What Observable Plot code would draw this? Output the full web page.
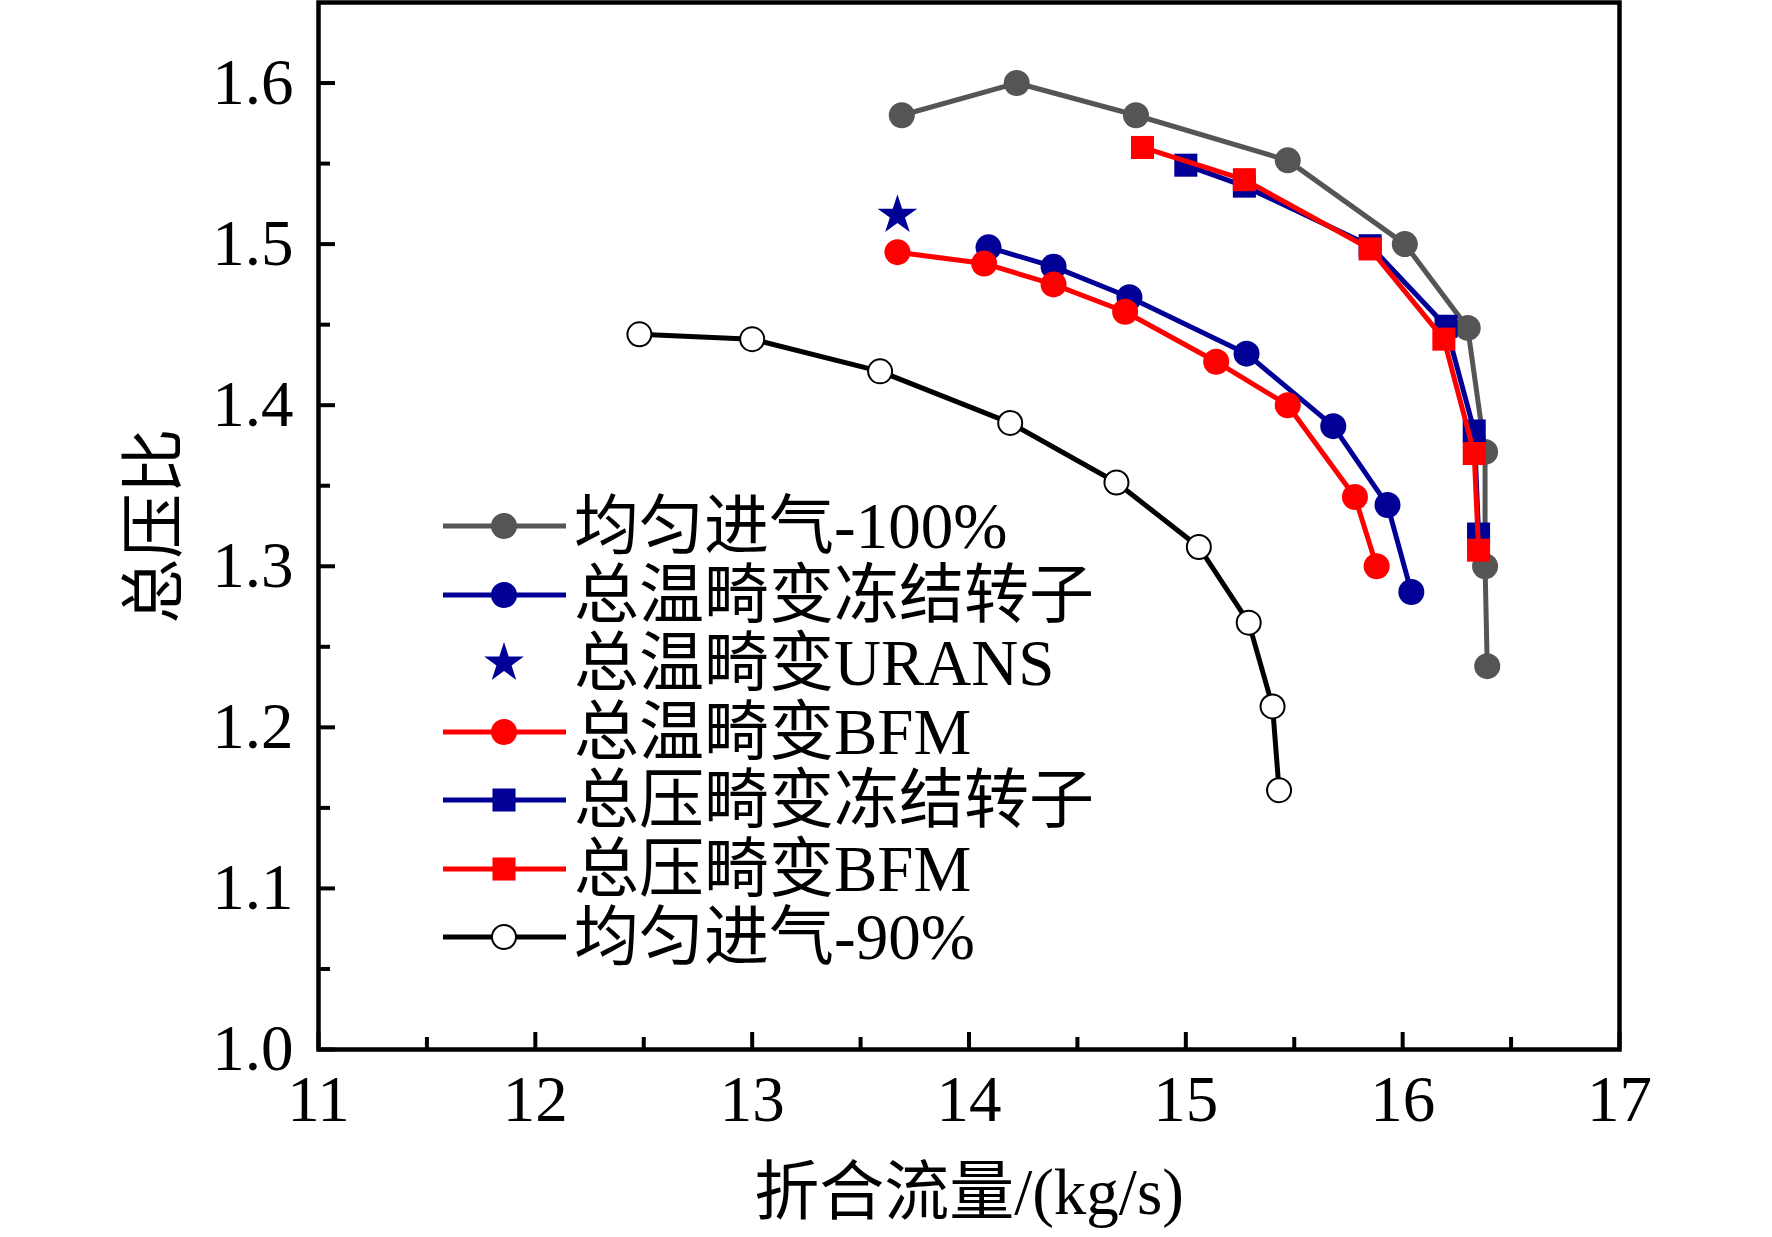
<!DOCTYPE html>
<html>
<head>
<meta charset="utf-8">
<script src="https://cdn.jsdelivr.net/npm/d3@7"></script>
<script src="https://cdn.jsdelivr.net/npm/@observablehq/plot@0.6"></script>
<style>
  html, body { margin: 0; padding: 0; background: #fff; }
  #wrap { position: relative; width: 1772px; height: 1237px; font-family: "Liberation Serif", "Times New Roman", "Noto Sans CJK SC", serif; }
  .leg-row { position: absolute; display: flex; align-items: center; height: 68px; }
  .leg-row span { font-size: 65px; line-height: 68px; white-space: nowrap; color: #000; }
</style>
</head>
<body>
<div id="wrap"></div>
<script>
// ---- data ----
const xLabel = "折合流量/(kg/s)";
const yLabel = "总压比";
const xMajorTicks = [11, 12, 13, 14, 15, 16, 17];
const xMinorTicks = [11.5, 12.5, 13.5, 14.5, 15.5, 16.5];
const yMajorTicks = [1.0, 1.1, 1.2, 1.3, 1.4, 1.5, 1.6];
const yMinorTicks = [1.05, 1.15, 1.25, 1.35, 1.45, 1.55];

const seriesNames = ["均匀进气-100%", "总温畸变冻结转子", "总温畸变URANS", "总温畸变BFM", "总压畸变冻结转子", "总压畸变BFM", "均匀进气-90%"];

const uniform100X = [13.69, 14.22, 14.77, 15.47, 16.01, 16.30, 16.38, 16.38, 16.39];
const uniform100Y = [1.580, 1.600, 1.580, 1.552, 1.500, 1.448, 1.371, 1.300, 1.238];

const tempFrozenX = [14.09, 14.39, 14.74, 15.28, 15.68, 15.93, 16.04];
const tempFrozenY = [1.498, 1.486, 1.467, 1.432, 1.387, 1.338, 1.284];

const tempUransX = [13.67];
const tempUransY = [1.518];

const tempBfmX = [13.67, 14.07, 14.39, 14.72, 15.14, 15.47, 15.78, 15.88];
const tempBfmY = [1.495, 1.488, 1.475, 1.458, 1.427, 1.400, 1.343, 1.300];

const pressFrozenX = [15.00, 15.27, 15.85, 16.20, 16.33, 16.35];
const pressFrozenY = [1.549, 1.536, 1.499, 1.449, 1.384, 1.320];

const pressBfmX = [14.80, 15.27, 15.85, 16.19, 16.33, 16.35];
const pressBfmY = [1.560, 1.540, 1.497, 1.441, 1.370, 1.310];

const uniform90X = [12.48, 13.00, 13.59, 14.19, 14.68, 15.06, 15.29, 15.40, 15.43];
const uniform90Y = [1.444, 1.441, 1.421, 1.389, 1.352, 1.312, 1.265, 1.213, 1.161];

// ---- styles ----
const GRAY = "#555555", BLUE = "#000096", RED = "#ff0000", BLACK = "#000000";
const series = [
  {name: seriesNames[0], xs: uniform100X, ys: uniform100Y, color: GRAY, symbol: "circle", line: true, fill: GRAY},
  {name: seriesNames[1], xs: tempFrozenX, ys: tempFrozenY, color: BLUE, symbol: "circle", line: true, fill: BLUE},
  {name: seriesNames[2], xs: tempUransX, ys: tempUransY, color: BLUE, symbol: "star", line: false, fill: BLUE},
  {name: seriesNames[3], xs: tempBfmX, ys: tempBfmY, color: RED, symbol: "circle", line: true, fill: RED},
  {name: seriesNames[4], xs: pressFrozenX, ys: pressFrozenY, color: BLUE, symbol: "square", line: true, fill: BLUE},
  {name: seriesNames[5], xs: pressBfmX, ys: pressBfmY, color: RED, symbol: "square", line: true, fill: RED},
  {name: seriesNames[6], xs: uniform90X, ys: uniform90Y, color: BLACK, symbol: "circle", line: true, fill: "#ffffff"}
];
const symR = {circle: 13, square: 13, star: 12.5};
const rows = s => s.xs.map((x, i) => ({x, y: s.ys[i], series: s.name}));

const marks = [];
for (const s of series) {
  const d = rows(s);
  if (s.line) marks.push(Plot.line(d, {x: "x", y: "y", stroke: s.color, strokeWidth: 5}));
  const open = s.fill === "#ffffff";
  marks.push(Plot.dot(d, {x: "x", y: "y", symbol: s.symbol, r: open ? 12 : symR[s.symbol], fill: s.fill,
    stroke: open ? BLACK : "none", strokeWidth: open ? 2 : 0}));
}

const chart = Plot.plot({
  width: 1772,
  height: 1237,
  marginLeft: 318,
  marginRight: 153,
  marginTop: 2,
  marginBottom: 188,
  style: {fontFamily: '"Liberation Serif", "Times New Roman", "Noto Sans CJK SC", serif', fontSize: "65px", color: "#000", background: "#fff"},
  x: {domain: [11, 17]},
  y: {domain: [1.0, 1.65]},
  marks: [
    ...marks,
    Plot.axisX(xMajorTicks, {tickSize: 0, tickPadding: 25, tickFormat: d => String(d), label: xLabel, labelArrow: "none", labelAnchor: "center", labelOffset: 164, fontSize: 65}),
    Plot.axisX(xMajorTicks, {tickSize: -17, strokeWidth: 4, tickFormat: () => "", label: null}),
    Plot.axisX(xMinorTicks, {tickSize: -12, strokeWidth: 4, tickFormat: () => "", label: null}),
    Plot.axisY(yMajorTicks, {tickSize: 0, tickPadding: 25, tickFormat: d3.format(".1f"), label: yLabel, labelArrow: "none", labelAnchor: "center", labelOffset: 189, fontSize: 65}),
    Plot.axisY(yMajorTicks, {tickSize: -17, strokeWidth: 4, tickFormat: () => "", label: null}),
    Plot.axisY(yMinorTicks, {tickSize: -12, strokeWidth: 4, tickFormat: () => "", label: null}),
    Plot.frame({stroke: "#000", strokeWidth: 4.5})
  ]
});
const wrap = document.getElementById("wrap");
wrap.appendChild(chart);

// ---- legend (HTML overlay) ----
const legLeft = 443, legTop = 526, legStep = 68.5;
series.forEach((s, i) => {
  const row = document.createElement("div");
  row.className = "leg-row";
  row.style.left = legLeft + "px";
  row.style.top = (legTop + i * legStep - 34) + "px";
  const svg = d3.create("svg").attr("width", 131).attr("height", 68);
  if (s.line) svg.append("line").attr("x1", 0).attr("x2", 123).attr("y1", 34).attr("y2", 34)
    .attr("stroke", s.color).attr("stroke-width", 5);
  const type = {circle: d3.symbolCircle, square: d3.symbolSquare, star: d3.symbolStar}[s.symbol];
  const open = s.fill === "#ffffff";
  const r = open ? 12 : symR[s.symbol];
  svg.append("path").attr("d", d3.symbol(type, Math.PI * r * r)())
    .attr("transform", "translate(61,34)")
    .attr("fill", s.fill).attr("stroke", open ? BLACK : "none").attr("stroke-width", open ? 2 : 0);
  row.appendChild(svg.node());
  const span = document.createElement("span");
  span.textContent = s.name;
  row.appendChild(span);
  wrap.appendChild(row);
});
</script>
</body>
</html>
